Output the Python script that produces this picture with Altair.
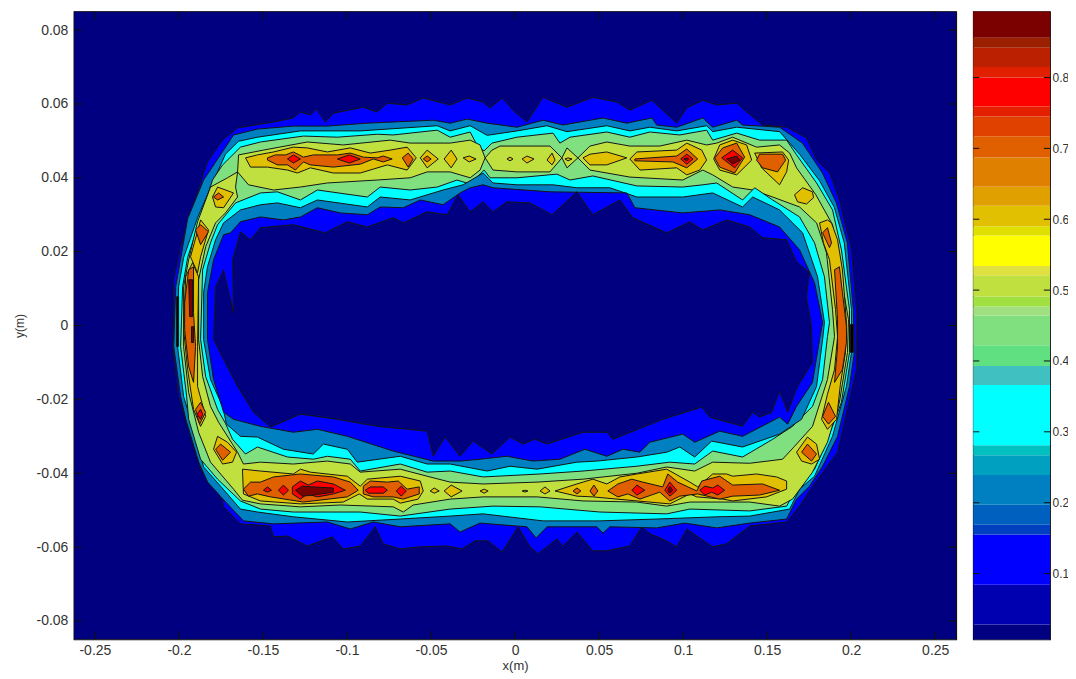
import altair as alt
import pandas as pd

# Contour outlines, in millimetres (x, y).
PLOT_FRAME = [(-262.5,-85),(-262.5,85),(262.5,85),(262.5,-85)]
OUT_1 = [(-203.7,-5.7),(-203.1,3.5),(-203.1,12.4),(-199,21.3),(-194.8,27.3),(-185.3,41.3),(-183,44.3),(-174,50.2),(-165.1,53.5),(-143.7,55.1),(-131.9,56.2),(-127.7,57.8),(-121.8,57),(-118.2,58.6),(-112.9,55.1),(-108.1,57.5),(-90.3,59.1),(-82,57.8),(-76,60.2),(-64.2,59.7),(-54.6,61.6),(-38.6,59.7),(-28.5,61.6),(-19,60.5),(-14.9,58.9),(-7.7,61.6),(-1.2,58.3),(7.1,55.1),(16.6,61.8),(30.9,59.1),(46.3,61.8),(60.6,60.5),(68.3,58.3),(81.4,61),(96.2,54.8),(102.2,58.9),(111.7,61),(120,59.7),(131.9,60.2),(136.6,58.3),(147.3,54.3),(161.6,53.7),(173.4,50.8),(179.4,44.8),(187.1,41.3),(193,34),(200.2,20.5),(203.1,4.3),(203.1,-11.9),(199,-20),(191.9,-34.3),(177,-43.5),(169.3,-48.9),(161.6,-53.2),(139.6,-54.3),(125.9,-59.1),(117.6,-59.9),(102.2,-55.1),(96.2,-59.9),(87.9,-57.8),(80.2,-56.4),(75.4,-54.5),(68.3,-59.7),(54.6,-61),(46.3,-61),(36.8,-55.9),(28.5,-59.7),(24.9,-57.8),(13.7,-61.8),(8.9,-59.9),(1.8,-54.5),(-7.7,-61.3),(-16,-58.3),(-23.8,-58.3),(-31.5,-60.5),(-40.4,-59.7),(-56.4,-59.9),(-68.3,-60.5),(-78.4,-59.1),(-83.2,-54.5),(-92.1,-59.7),(-102.2,-60.5),(-108.7,-57.2),(-123.6,-59.7),(-135.4,-57),(-143.7,-57.2),(-145.5,-54.3),(-163.4,-53.7),(-173.4,-49.1),(-175.2,-45.6),(-183,-41.6),(-187.1,-38.9),(-194.8,-27.3),(-200.2,-19.2)]
OUT_2 = [(-203.1,-5.7),(-201.9,10.5),(-194.8,28.9),(-185.3,39.4),(-173.4,47.5),(-167.5,51.6),(-153.2,53.2),(-131.9,54),(-111.7,54),(-87.9,54.8),(-48.7,55.6),(-38.6,54.8),(-28.5,55.9),(-16.6,54.8),(1.2,53.7),(16.6,55.6),(28.5,54.3),(52.3,56.2),(66.5,54.8),(81.4,56.2),(84.3,54.3),(96.2,53.7),(111.7,56.2),(117.6,53.7),(131.9,55.6),(135.4,54.3),(157.4,53.7),(171,49.4),(182.9,41.3),(191.2,33.2),(197.7,22.4),(201.3,4.3),(201.9,-7.3),(199,-16.5),(191.9,-30),(183,-38.1),(175.2,-43.5),(167.5,-47),(161.6,-52.4),(139.6,-53.5),(120,-54.8),(101,-53.5),(84.3,-54.8),(56.4,-54.5),(52.3,-56.2),(48.7,-54.5),(19,-54.5),(12.5,-57.5),(7.1,-54.5),(-20.8,-53.5),(-32.7,-55.9),(-38.6,-53.7),(-68.3,-54.5),(-84.3,-53.2),(-98,-55.1),(-111.7,-53.2),(-143.7,-53.7),(-161.5,-52.9),(-172.2,-47.8),(-182.9,-42.4),(-188.2,-37),(-195.9,-25.4),(-199,-19.2)]
OUT_3 = [(-200.8,-5.7),(-200.2,10.5),(-197.2,18.4),(-188.9,29.2),(-181.2,37.3),(-172.3,46.4),(-164.5,49.9),(-153.2,51),(-127.7,52.7),(-108.1,52.7),(-92.1,52.7),(-72.5,53.3),(-46.3,54.1),(-38.6,52.7),(-26.7,54.1),(-16.6,51.5),(1.2,52.7),(19,54.1),(30.9,52.5),(54.6,54.1),(68.3,52.7),(80.2,53.7),(96.2,52.7),(114,54.1),(117.6,52.5),(131.9,53.7),(157.4,52.5),(169.3,46.4),(181.2,39.2),(190,32),(195.9,22.4),(200.2,4.3),(200.2,-7.3),(197.2,-16.5),(188.9,-30),(178.2,-40.8),(169.3,-44.3),(163.4,-49.7),(139.6,-51.6),(120,-51.8),(84.3,-52.4),(50.5,-52.9),(16.6,-52.9),(-19,-51),(-38.6,-51.6),(-68.3,-52.4),(-99.8,-53.2),(-131.9,-51.8),(-153.2,-50.5),(-163.4,-49.7),(-175.2,-43.5),(-185.3,-38.3),(-191.8,-27.3),(-197.2,-19.2)]
OUT_4 = [(-199,-5.7),(-197.8,10.5),(-194.8,18.4),(-187.1,29.2),(-180,39.4),(-174,43.5),(-163.4,48.3),(-151.5,49.7),(-125.9,51.3),(-105.7,51),(-82,51.8),(-72.5,51.6),(-46.3,52.9),(-38.6,51),(-26.7,52.4),(-22,48.3),(-18.4,47.3),(-13.7,49.4),(1.2,51),(22.6,52.1),(26.7,49.4),(32.7,51),(54.6,52.4),(68.3,51),(80.2,52.4),(98,51.6),(114,52.9),(117.6,50.2),(131.9,52.1),(145.5,50.2),(161.6,50.2),(167.5,46.2),(179.4,38.6),(188.9,31.3),(194.2,20.5),(199,4.3),(199,-7.3),(194.2,-20.8),(185.3,-31.6),(178.2,-38.9),(168.1,-43.5),(161.6,-48.9),(139.6,-50.2),(104,-49.7),(90.3,-51),(50.5,-50.5),(14.9,-49.1),(-13.1,-48.9),(-38.6,-49.7),(-68.3,-51.6),(-92.1,-50.5),(-131.9,-50.5),(-151.5,-49.7),(-163.4,-47.5),(-177,-41.6),(-187.1,-36.2),(-194.2,-25.4),(-195.4,-19.2)]
OUT_5 = [(-197.2,-5.7),(-197.2,10.5),(-194.2,17.8),(-188.9,28.1),(-181.2,37.5),(-171.1,40),(-165.1,41.6),(-164.5,46.2),(-149.7,47.5),(-123.6,49.7),(-102.2,48.9),(-74.3,50.2),(-62.4,49.4),(-38.6,49.4),(-26.7,50.2),(-20.8,48.9),(-17.8,45.4),(-13.7,47.5),(-8.9,48.6),(20.8,48.6),(27.9,45.4),(30.9,48.1),(37.4,45.4),(44.6,48.6),(54.6,49.7),(68.3,48.6),(86.1,48.6),(102.2,50.2),(114,48.9),(120,49.4),(129.5,51),(143.7,48.3),(157.4,48.9),(163.4,46.7),(167.5,42.7),(179,35.4),(188.9,27.3),(191.9,18.6),(198.4,1.6),(197.8,-7.3),(193,-20.8),(185.9,-31.6),(177,-39.7),(165.1,-47),(157.4,-48.9),(139.6,-47.8),(104,-47.8),(90.3,-48.9),(72.5,-47.8),(40.4,-47.5),(13.1,-46.4),(-19,-46.4),(-38.6,-47),(-60.6,-48.6),(-66.5,-50.5),(-72.5,-49.1),(-104,-48.6),(-127.7,-49.1),(-151.5,-48.3),(-162.2,-47.3),(-167.5,-44.3),(-181.2,-37),(-188.3,-28.9),(-194.2,-18.1)]
IN_5 = [(-188.3,-3.8),(-188.3,12.4),(-184.1,21.3),(-178.2,27.8),(-172.3,30.5),(-165.1,34.8),(-166.3,37.5),(-165.1,41.6),(-158.6,38.1),(-143.7,36.7),(-127.7,37.5),(-111.7,38.6),(-82,39.4),(-62.4,40),(-52.3,41.6),(-38.6,41.6),(-26.7,40),(-20.8,42.1),(-17.8,45.4),(-13.1,42.1),(1.2,41.6),(20.8,41.6),(27.9,45.4),(30.9,42.7),(37.4,45.4),(44.6,42.1),(68.3,40.2),(99.8,39.4),(111.7,42.1),(117.6,40.8),(129.5,37.5),(141.4,36.7),(153.3,34.8),(169.3,32.1),(179.4,27.8),(185.3,19.7),(188.9,4.3),(190.1,-3),(185.9,-14.6),(177,-27.3),(166.3,-32.7),(159.2,-36.2),(139.6,-37.3),(117.6,-37),(106.9,-39.4),(90.3,-38.3),(72.5,-40),(40.4,-41.6),(13.1,-42.4),(-19,-42.9),(-38.6,-42.4),(-52.3,-40.8),(-68.3,-38.9),(-92.1,-39.7),(-98,-37.5),(-111.7,-36.7),(-131.9,-37.5),(-151.5,-37),(-161.6,-37.5),(-165.1,-34.3),(-176.4,-26.2),(-181.2,-21.9),(-185.9,-13.8)]
IN_4 = [(-187.1,-3.8),(-185.9,15.1),(-181.2,22.4),(-177,27.3),(-166.3,33.2),(-151.5,35.9),(-141.4,36.2),(-127.7,34),(-117.6,36.7),(-87.9,34.8),(-80.2,37.5),(-62.4,36.7),(-46.3,37.5),(-34.5,39.4),(-26.7,38.3),(-18.4,42.1),(-14.9,40),(1.2,40),(24.9,41),(32.7,39.4),(46.3,40.5),(72.5,37.8),(99.8,37.5),(111.7,38.1),(120,38.6),(135.4,34),(142.6,37.3),(153.3,34),(169.3,29.4),(178.2,22.4),(184.1,13.2),(187.1,0.8),(185.9,-3),(183,-14.6),(177,-21.9),(165.1,-27.3),(153.3,-30.8),(135.4,-35.6),(117.6,-34),(106.9,-37.5),(92.1,-37),(72.5,-38.1),(40.4,-39.4),(14.9,-40.2),(-19,-41),(-38.6,-39.4),(-52.3,-39.7),(-68.3,-37.5),(-92.1,-39.4),(-98,-36.2),(-111.7,-35.4),(-120,-36.2),(-135.4,-35.6),(-153.3,-32.9),(-160.4,-34.8),(-168.1,-30.8),(-172.3,-26.5),(-177,-22.7),(-184.1,-13.8)]
IN_3 = [(-185.3,-3.8),(-185.3,8.9),(-183,15.9),(-178.2,23.2),(-173.4,27.8),(-163.4,31.3),(-151.5,32.7),(-141.4,33.2),(-127.7,31.9),(-117.6,34),(-87.9,32.1),(-80.2,34.8),(-62.4,34),(-42.8,36.7),(-30.9,38.1),(-19,41.3),(-13.1,38.6),(1.2,38.1),(22.6,38.1),(36.8,37.3),(56.4,37.3),(72.5,34.8),(99.8,34.8),(117.6,35.9),(135.4,32.1),(141.4,34.8),(157.4,31.3),(171.1,25.1),(180,13.2),(184.1,0.8),(183,-3.8),(179.4,-16.5),(170.5,-25.4),(157.4,-29.4),(135.4,-32.9),(117,-31.3),(106.9,-35.6),(98,-32.9),(90.3,-34.3),(72.5,-35.6),(48.7,-36.7),(36.8,-37),(13.1,-38.9),(-3,-38.1),(-16.6,-39.4),(-38.6,-37.5),(-52.3,-37.5),(-68.3,-35.4),(-93.9,-37),(-99.8,-33.5),(-114,-32.1),(-120,-34.8),(-137.8,-33.5),(-153.3,-30.2),(-163.4,-30),(-171.7,-26.7),(-174,-21.9),(-181.2,-14.6)]
IN_2 = [(-183,-3.8),(-183,8.9),(-179.4,17.8),(-173.4,24.6),(-169.3,25.1),(-163.4,28.1),(-151.5,29.4),(-137.8,28.6),(-127.7,29.4),(-117.6,31.9),(-104,30.5),(-87.9,30),(-80.2,32.1),(-66.5,31.9),(-56.4,34),(-42.8,32.7),(-32.7,35.9),(-26.7,37.3),(-19,38.1),(-13.1,37.3),(20.8,36.2),(66.5,35.9),(71.3,31.9),(99.8,30.5),(121.8,31.3),(139.6,30),(157.4,26.7),(169.3,20.5),(178.2,11.6),(183,0.8),(181.2,-3.8),(177,-15.4),(167.5,-21.9),(162.2,-26.7),(157.4,-24.8),(135.4,-30),(121.8,-28.6),(106.9,-31.6),(99.8,-29.4),(80.2,-31.6),(74.3,-34.3),(64.2,-33.5),(54.6,-35.4),(41.6,-33.5),(26.7,-36.2),(10.7,-36.7),(-4.8,-35.4),(-20.8,-36.2),(-32.7,-36.7),(-48.7,-36.7),(-72.5,-34),(-99.8,-30),(-117.6,-28.1),(-131.9,-28.9),(-151.5,-27.3),(-167.5,-25.4),(-173.4,-23.5),(-179.4,-14.6)]
IN_1 = [(-179.4,-3.8),(-178.2,10.5),(-173.4,15.1),(-167.5,3.5),(-168.1,17.8),(-163.4,25.4),(-157.4,23.2),(-151.5,26.5),(-131.9,27.3),(-112.9,25.1),(-99.8,28.1),(-87.9,26.7),(-72.5,29.2),(-66.5,27.8),(-52.3,30.8),(-40.4,30),(-33.9,35.4),(-26.7,30.8),(-19,33.5),(-13.1,30.8),(-4.8,33.5),(8.9,33.2),(22,30),(36.8,36.2),(46.3,30),(62.4,34),(70.1,29.2),(90.3,25.1),(104,28.1),(111.7,25.9),(125.9,28.6),(139.6,26.7),(147.3,23.8),(161.6,23.2),(167.5,17.3),(175.2,14.3),(173.4,7.8),(176.4,-0.3),(177,-10),(168.1,-16.5),(162.2,-23.5),(157.4,-17.8),(152.7,-23.5),(145.5,-24.8),(141.4,-23.5),(135.4,-27.3),(115.8,-24.8),(111.1,-22.1),(87.9,-25.4),(58.2,-30.8),(54.6,-28.9),(40.4,-28.9),(19,-32.1),(11.9,-30.8),(4.8,-32.1),(-3,-30.2),(-13.7,-34.8),(-24.9,-31.3),(-32.7,-35.4),(-41.6,-30.2),(-48.7,-35.4),(-52.3,-28.6),(-82,-27.3),(-105.7,-25.4),(-127.7,-24),(-145.5,-27.5),(-155.6,-23.5),(-165.1,-16.5),(-173.4,-9.2)]

LEVEL_6 = [
 [(-160.4,45.4),(-153.3,46.2),(-143.7,47),(-131.9,48.3),(-123.6,48.1),(-111.7,47),(-98,48.1),(-86.1,46.7),(-74.3,47.5),(-64.2,48.3),(-58.8,45.4),(-64.2,42.1),(-76,43.5),(-92.1,41.3),(-108.1,41.3),(-121.8,42.7),(-129.5,41.3),(-135.4,42.1),(-147.3,42.9),(-157.4,42.9)],
 [(-56.4,45.4),(-52.3,47.5),(-45.7,45.1),(-52.3,42.7)],
 [(-42.2,45.1),(-38,47.5),(-34.5,45.1),(-38,42.7)],
 [(-30.9,45.4),(-27.3,45.9),(-23.2,45.1),(-27.3,44.3)],
 [(-4.8,45.1),(-3,45.6),(-1.2,45.1),(-3,44.6)],
 [(4.2,45.1),(7.1,45.9),(11.3,45.1),(7.1,44)],
 [(19,44.8),(22,46.7),(23.8,44.8),(22,43.5)],
 [(29.7,45.1),(31.5,45.4),(33.9,45.1),(31.5,44.6)],
 [(40.4,45.4),(44.6,46.4),(54.6,47),(66.5,45.4),(54.6,43.5),(44.6,43.5)],
 [(68.3,45.1),(72.5,47),(96.2,47.5),(102.2,49.4),(111.1,47.5),(114,44.8),(109.9,42.1),(102.2,40.8),(96.2,42.7),(74.3,42.1)],
 [(118.2,45.1),(121.8,48.9),(129.5,50.2),(137.8,48.9),(140.8,44.8),(131.9,40.8),(121.8,42.1)],
 [(142.6,46.7),(159.2,47),(162.8,44.8),(161.6,41.6),(157.4,38.1),(146.7,42.7)],
 [(166.3,35.4),(171.1,37.3),(177,36.2),(177.6,34.6),(173.4,32.9),(168.1,33.5)],
 [(181.2,27.8),(185.9,28.6),(188.3,27.8),(191.9,23.2),(194.8,15.1),(197.2,0.8),(196.6,-7.3),(193.6,-15.9),(191.3,-25.4),(185.9,-28.1),(182.4,-25.4),(185.9,-18.6),(190.1,-11.9),(191.9,-3),(190.7,4.3),(187.1,17.8),(183.5,22.4)],
 [(167.5,-34.3),(174,-30.2),(179.4,-32.1),(181.2,-36.2),(176.4,-37.5),(170.5,-36.7)],
 [(23.8,-44.8),(36.8,-42.9),(46.3,-41.6),(54.6,-42.9),(62.4,-41),(72.5,-40.2),(90.3,-38.9),(104,-42.4),(108.7,-43.7),(117.6,-40.2),(125.9,-40.2),(129.5,-40.8),(143.7,-40.2),(155.6,-41),(161.6,-42.1),(161.6,-44.3),(149.7,-46.4),(129.5,-47.5),(123.6,-47),(108.1,-46.4),(104,-45.6),(92.1,-48.3),(72.5,-47.5),(46.3,-46.4),(36.8,-46.2)],
 [(-42.2,-44.8),(-38,-43.2),(-31.5,-44.8),(-38,-46.4)],
 [(-50.5,-44.8),(-48.1,-44),(-45.1,-44.8),(-48.1,-45.4)],
 [(-20.8,-44.8),(-18.4,-44.3),(-16,-44.8),(-18.4,-45.4)],
 [(4.2,-44.8),(5.9,-44.6),(7.7,-44.8),(5.9,-45.1)],
 [(14.9,-44.8),(17.8,-43.7),(20.8,-44.8),(17.8,-45.6)],
 [(-162.2,-38.9),(-151.5,-39.4),(-131.9,-40.2),(-127.7,-38.9),(-121.8,-39.7),(-99.8,-40.8),(-92.1,-43.5),(-87.9,-41.6),(-68.3,-40.8),(-56.4,-42.1),(-54.6,-44.8),(-57.6,-47),(-68.3,-48.1),(-72.5,-47),(-87.9,-47),(-92.7,-45.6),(-102.2,-47.8),(-127.7,-48.3),(-151.5,-47.5),(-161.6,-45.6)],
 [(-180,34.8),(-177,37.5),(-167.5,35.9),(-173.4,31.9),(-178.2,32.1)],
 [(-193.1,18.6),(-187.1,28.6),(-182.4,25.9),(-187.1,18.6),(-188.9,14.3)],
 [(-196,13.2),(-191.9,17),(-188.3,13.2),(-188.9,-5.7),(-188.9,-16.5),(-184.1,-24.6),(-187.1,-27.3),(-191.3,-22.7),(-194.8,-11.9),(-197.2,-1.1)],
 [(-179.4,-33.5),(-177,-30),(-171.1,-31.6),(-165.7,-34.3),(-168.1,-37),(-174,-37.5)],
]
LEVEL_7 = [
 [(-147.3,45.4),(-142.6,46.2),(-136.6,46.2),(-131.9,47),(-125.9,45.6),(-120,46.2),(-105.7,46.2),(-98,46.7),(-90.3,45.6),(-82,45.4),(-78.4,45.9),(-73.1,45.1),(-78.4,44.3),(-84.3,45.1),(-92.1,43.7),(-108.1,42.9),(-121.8,43.5),(-125.9,44.3),(-130.7,42.1),(-135.4,43.5),(-141.4,43.5),(-147.3,44.8)],
 [(-67.1,45.4),(-63.6,46.7),(-60.6,45.1),(-63.6,42.9)],
 [(-54.6,45.1),(-52.3,45.9),(-49.9,45.1),(-52.3,44.3)],
 [(71.3,45.1),(96.2,45.9),(102.2,47.8),(108.7,45.1),(102.2,42.7),(93.9,44.3),(71.3,44.6)],
 [(118.8,45.4),(123.6,48.1),(131.9,49.4),(136.6,45.6),(130.7,41.3),(121.8,42.9)],
 [(143.7,44.8),(145.5,46.4),(159.2,46.4),(161,44.8),(156.2,41.6),(147.3,42.7)],
 [(183,25.1),(185.9,26.5),(188.3,22.4),(187.1,21.1)],
 [(190.1,15.1),(193,15.9),(194.8,8.9),(197.2,-0.3),(197.2,-4.6),(194.8,-11.9),(190.1,-15.4),(191.9,-5.7),(191.9,1.6)],
 [(183,-24.6),(186.5,-20.8),(190.7,-24.6),(186.5,-26.7)],
 [(170.5,-34.3),(174,-32.1),(179.4,-34.8),(176.4,-36.7)],
 [(55.2,-44.8),(61.2,-42.9),(69.5,-41.6),(76,-42.4),(87.9,-43.7),(90.9,-40.2),(96.8,-42.4),(108.1,-44.8),(111.1,-42.1),(121.8,-40.8),(129.5,-43.2),(147.3,-42.9),(157.4,-44.6),(145.5,-45.9),(129.5,-46.2),(121.8,-47),(108.7,-45.6),(98,-46.2),(92.1,-47.5),(86.1,-45.1),(74.3,-47),(67.1,-45.6),(61.2,-46.4)],
 [(44.6,-44.8),(46.9,-43.2),(49.3,-44.8),(46.9,-46.2)],
 [(34.5,-44.8),(36.8,-44),(39.2,-44.8),(36.8,-45.6)],
 [(-161.6,-44.3),(-157.4,-42.4),(-151.5,-42.4),(-143.7,-41),(-127.7,-40.2),(-108.1,-41),(-98,-42.4),(-93.3,-44.6),(-99.8,-46.4),(-125.9,-47.8),(-145.5,-46.4),(-153.3,-45.6),(-158.6,-46.2)],
 [(-90.3,-43.5),(-86.1,-42.1),(-76,-42.4),(-69.5,-42.1),(-64.2,-44.3),(-57,-43.7),(-57,-45.6),(-66.5,-47),(-72.5,-46.4),(-84.3,-46.4),(-90.3,-45.6)],
 [(-179.4,34.8),(-176.4,35.9),(-173.4,34.8),(-177,34)],
 [(-190.1,25.9),(-187.1,27.3),(-182.4,25.4),(-187.1,21.9)],
 [(-196.6,6.2),(-194.2,15.1),(-191.3,15.9),(-191.3,3.5),(-190.1,-5.7),(-191.3,-15.4),(-194.2,-11.1),(-196.6,-1.1)],
 [(-190.1,-22.7),(-187.1,-20.8),(-184.1,-23.5),(-187.7,-26.7)],
 [(-178.2,-33.5),(-175.2,-32.1),(-169.3,-34.3),(-174,-36.5)],
]
LEVEL_8 = [
 [(-135.4,45.1),(-131.9,46.2),(-127.7,45.1),(-131.9,44)],
 [(-105.7,45.1),(-98.6,46.2),(-92.1,45.1),(-98.6,44)],
 [(98.6,45.1),(102.2,46.4),(105.9,45.1),(102.2,43.7)],
 [(123,45.4),(129.5,47.5),(135.4,45.4),(130.7,42.7)],
 [(69.5,-44.6),(72.5,-43.2),(77.2,-44.6),(72.5,-45.9)],
 [(89.1,-44.6),(92.1,-42.4),(96.2,-44.6),(92.1,-46.2)],
 [(109.9,-44.6),(112.9,-43.5),(117.6,-44),(120.6,-43.2),(124.7,-44.6),(120.6,-45.9),(117,-45.1),(112.9,-45.9)],
 [(-149.7,-44.6),(-147.3,-43.7),(-144.9,-44.6),(-147.3,-45.1)],
 [(-140.8,-44.6),(-137.8,-43.2),(-134.8,-44.6),(-137.8,-45.9)],
 [(-132.5,-43.7),(-127.7,-42.1),(-123,-43.2),(-117.6,-42.1),(-108.1,-42.9),(-101,-44.6),(-108.1,-45.6),(-117.6,-46.4),(-123.6,-45.6),(-127.7,-47),(-132.5,-45.6)],
 [(-89.1,-44.6),(-86.1,-43.7),(-78.4,-43.7),(-76,-44.6),(-78.4,-45.4),(-87.3,-45.4)],
 [(-70.7,-44.8),(-67.7,-43.5),(-64.7,-44.8),(-67.7,-46.2)],
 [(-189.1,-24),(-187.1,-22.7),(-185.9,-24),(-187.1,-25.4)],
]
LEVEL_TOP = [
 [(100.4,45.1),(102.2,45.4),(103.4,45.1),(102.2,44.6)],
 [(125.9,45.1),(131.9,45.9),(133.7,44.8),(129.5,43.7)],
 [(90.9,-44.6),(92.1,-43.5),(93.9,-44.6),(92.1,-45.4)],
 [(-130.7,-44.6),(-126.5,-43.5),(-120,-43.7),(-108.1,-44),(-108.1,-45.1),(-120,-45.9),(-126.5,-46.2)],
 [(-194.2,12.4),(-191.9,12.4),(-191.9,2.4),(-193.6,2.4)],
 [(-192.5,-0.3),(-191.3,-0.3),(-191.3,-4.6),(-192.5,-4.6)],
]
PACKED_LINES = [
 [(-201.4,7.8),(-200.2,7.8),(-200.2,-5.7),(-201.4,-5.7)],
 [(199.6,0.3),(201.3,0.3),(201.3,-7.3),(199.6,-7.3)],
]

NAVY, BLUE, TEAL, CYAN, GREEN, YGREEN = "#000080", "#0000ff", "#0080c0", "#00ffff", "#80e080", "#c0e040"
GOLD, ORANGE, RED, MAROON, BLACK = "#e0c000", "#e06000", "#ff0000", "#7b0000", "#000000"

PAINT_ORDER = [(NAVY, [PLOT_FRAME]), (BLUE, [OUT_1]), (TEAL, [OUT_2]), (CYAN, [OUT_3]), (GREEN, [OUT_4]), (YGREEN, [OUT_5]),
               (GREEN, [IN_5]), (CYAN, [IN_4]), (TEAL, [IN_3]), (BLUE, [IN_2]), (NAVY, [IN_1]),
               (GOLD, LEVEL_6), (ORANGE, LEVEL_7), (RED, LEVEL_8), (MAROON, LEVEL_TOP), (BLACK, PACKED_LINES)]

X_TICKS = [-0.25, -0.2, -0.15, -0.1, -0.05, 0, 0.05, 0.1, 0.15, 0.2, 0.25]
Y_TICKS = [-0.08, -0.06, -0.04, -0.02, 0, 0.02, 0.04, 0.06, 0.08]
X_DOMAIN = [-0.2625, 0.2625]
Y_DOMAIN = [-0.085, 0.085]
X_TICK_LEN = 0.0048
Y_TICK_LEN = 0.0022

BAR_EDGES = [0.007, 0.028, 0.084, 0.155, 0.169, 0.197, 0.239, 0.267, 0.281, 0.366, 0.393, 0.422, 0.464, 0.477, 0.491,
             0.521, 0.534, 0.577, 0.590, 0.619, 0.646, 0.687, 0.717, 0.745, 0.759, 0.80, 0.815, 0.842, 0.856, 0.893]
BAR_COLORS = ["#000080", "#0000b0", "#0000ff", "#0040c0", "#0060c0", "#0080c0", "#00a0c0", "#00c0c0", "#00ffff",
              "#40c0c0", "#60e080", "#80e080", "#a0e080", "#a0e040", "#c0e040", "#e0e040", "#ffff00", "#e0e000",
              "#e0c000", "#e0a000", "#e08000", "#e06000", "#e04000", "#e52000", "#ff0000", "#e02000", "#bb2000",
              "#9a2000", "#7b0000"]
BAR_TICKS = [0.1, 0.2, 0.3, 0.4, 0.5, 0.6, 0.7, 0.8]
BAR_DOMAIN = [0.007, 0.893]
BAR_TICK_LEN = 0.08

rows = []
pid = 0
for colour, shapes in PAINT_ORDER:
    for shape in shapes:
        for i, (xv, yv) in enumerate(list(shape) + [shape[0]]):
            rows.append({"pid": pid, "i": i, "x": xv / 1000, "y": yv / 1000, "colour": colour})
        pid += 1
df = pd.DataFrame(rows)

FONT = "Liberation Sans"
LABEL = "#333333"
x_scale = alt.Scale(domain=X_DOMAIN, nice=False, zero=False)
y_scale = alt.Scale(domain=Y_DOMAIN, nice=False, zero=False)

contours = alt.Chart(df).mark_line(strokeWidth=1, clip=True, stroke="#151515").encode(
    x=alt.X("x:Q", scale=x_scale, title="x(m)",
            axis=alt.Axis(values=X_TICKS, labelExpr="datum.value + ''", ticks=False, grid=False, domain=False,
                          labelFontSize=14, labelColor=LABEL, labelFont=FONT, labelPadding=4,
                          titleFont=FONT, titleFontSize=13, titleFontWeight="normal", titleColor=LABEL, titlePadding=2)),
    y=alt.Y("y:Q", scale=y_scale, title="y(m)",
            axis=alt.Axis(values=Y_TICKS, labelExpr="datum.value + ''", ticks=False, grid=False, domain=False,
                          labelFontSize=14, labelColor=LABEL, labelFont=FONT, labelPadding=6,
                          titleFont=FONT, titleFontSize=12, titleFontWeight="normal", titleColor=LABEL, titlePadding=10)),
    order="i:Q",
    detail="pid:N",
    fill=alt.Fill("colour:N", scale=None),
)

xt = []
for t in X_TICKS:
    xt += [{"x": t, "y": Y_DOMAIN[0], "y2": Y_DOMAIN[0] + Y_TICK_LEN}, {"x": t, "y": Y_DOMAIN[1], "y2": Y_DOMAIN[1] - Y_TICK_LEN}]
yt = []
for t in Y_TICKS:
    yt += [{"y": t, "x": X_DOMAIN[0], "x2": X_DOMAIN[0] + X_TICK_LEN}, {"y": t, "x": X_DOMAIN[1], "x2": X_DOMAIN[1] - X_TICK_LEN}]
x_ticks = alt.Chart(pd.DataFrame(xt)).mark_rule(color="#101010", strokeWidth=1).encode(
    x=alt.X("x:Q", scale=x_scale), y=alt.Y("y:Q", scale=y_scale), y2="y2:Q")
y_ticks = alt.Chart(pd.DataFrame(yt)).mark_rule(color="#101010", strokeWidth=1).encode(
    y=alt.Y("y:Q", scale=y_scale), x=alt.X("x:Q", scale=x_scale), x2="x2:Q")

main = alt.layer(contours, x_ticks, y_ticks).properties(width=884, height=629)

bar_df = pd.DataFrame({"lo": BAR_EDGES[:-1], "hi": BAR_EDGES[1:], "colour": BAR_COLORS})
bar_scale = alt.Scale(domain=BAR_DOMAIN, nice=False, zero=False)
bar_x = alt.Scale(domain=[0, 1], nice=False)
bar = alt.Chart(bar_df).mark_rect().encode(
    x=alt.value(0), x2=alt.value(77),
    y=alt.Y("lo:Q", scale=bar_scale, title=None,
            axis=alt.Axis(orient="right", values=BAR_TICKS, labelExpr="datum.value + ''", ticks=False, grid=False,
                          domain=False, labelFontSize=12, labelColor=LABEL, labelFont=FONT, labelPadding=2)),
    y2="hi:Q",
    color=alt.Color("colour:N", scale=None),
)
bt = []
for t in BAR_TICKS:
    bt += [{"y": t, "x": 0, "x2": BAR_TICK_LEN}, {"y": t, "x": 1, "x2": 1 - BAR_TICK_LEN}]
bar_ticks = alt.Chart(pd.DataFrame(bt)).mark_rule(color="#101010", strokeWidth=1).encode(
    y=alt.Y("y:Q", scale=bar_scale),
    x=alt.X("x:Q", scale=bar_x, axis=None), x2="x2:Q")
colorbar = alt.layer(bar, bar_ticks).properties(width=77, height=629)

chart = alt.hconcat(main, colorbar, spacing=17, bounds="flush").resolve_scale(y="independent", x="independent").properties(
    padding={"left": 4, "top": 1, "right": -2, "bottom": -1}, background="white"
).configure_view(stroke="#101010", strokeWidth=1.2)

chart.save("out.html", embed_options={"renderer": "svg", "actions": False})
